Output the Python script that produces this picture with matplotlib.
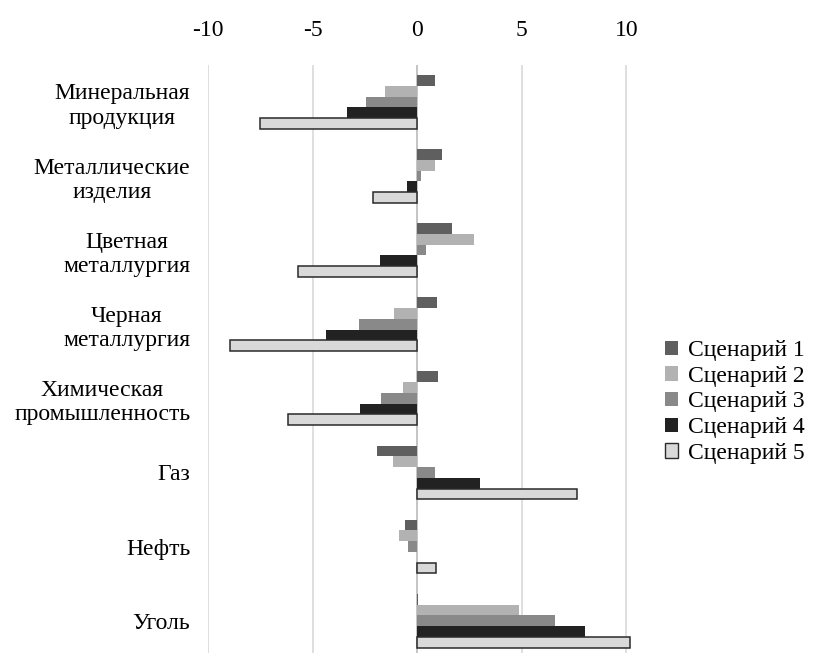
import matplotlib
matplotlib.use("Agg")
import matplotlib.pyplot as plt
from matplotlib.patches import Patch
import numpy as np

plt.rcParams['font.family'] = ['Liberation Serif', 'DejaVu Serif']

categories = [
    "Минеральная\nпродукция",
    "Металлические\nизделия",
    "Цветная\nметаллургия",
    "Черная\nметаллургия",
    "Химическая\nпромышленность",
    "Газ",
    "Нефть",
    "Уголь",
]
series_names = ["Сценарий 1", "Сценарий 2", "Сценарий 3", "Сценарий 4", "Сценарий 5"]

scenario1 = [0.85, 1.18, 1.66, 0.96, 1.00, -1.91, -0.57, 0.05]
scenario2 = [-1.53, 0.86, 2.73, -1.10, -0.67, -1.15, -0.86, 4.88]
scenario3 = [-2.44, 0.17, 0.43, -2.78, -1.72, 0.86, -0.43, 6.60]
scenario4 = [-3.35, -0.48, -1.77, -4.35, -2.73, 3.01, 0.00, 8.04]
scenario5 = [-7.55, -2.14, -5.73, -8.98, -6.20, 7.64, 0.89, 10.19]

x_ticks = [-10, -5, 0, 5, 10]

colors = ["#5f5f5f", "#b2b2b2", "#898989", "#222222", "#d9d9d9"]
edges = [None, None, None, None, "#2a2a2a"]

fig = plt.figure(figsize=(8.13, 6.53), dpi=100)
ax = fig.add_axes([208.3 / 813, -0.0072, (631.5 - 208.3) / 813, 0.9079])

y = np.arange(len(categories))
h = 0.145
all_series = [scenario1, scenario2, scenario3, scenario4, scenario5]
for i, vals in enumerate(all_series):
    offset = (i - 2) * h
    if edges[i]:
        ax.barh(y + offset, vals, height=h, color=colors[i], edgecolor=edges[i],
                linewidth=1.1, zorder=3)
    else:
        ax.barh(y + offset, vals, height=h, color=colors[i], linewidth=0, zorder=3)

ax.set_xlim(-10, 10.25)
ax.set_ylim(len(categories) - 0.5, -0.5)
ax.set_xticks(x_ticks)
ax.set_xticklabels([str(t) for t in x_ticks])
ax.xaxis.tick_top()
ax.tick_params(axis='x', length=0, pad=17, labelsize=17)
ax.set_yticks(y)
ax.set_yticklabels(categories, multialignment='center')
ax.tick_params(axis='y', length=0, pad=13, labelsize=17)

ax.grid(axis='x', color='#d9d9d9', linewidth=1.2, zorder=0)
ax.axvline(0, color='#c0c0c0', linewidth=1.2, zorder=2)
for s in ax.spines.values():
    s.set_visible(False)

handles = [Patch(facecolor=colors[i], edgecolor=(edges[i] or colors[i]),
                 linewidth=1.0 if edges[i] else 0) for i in range(5)]
fig.legend(handles, series_names, loc='center left',
           bbox_to_anchor=(660 / 813, 1 - 402 / 653), frameon=False,
           fontsize=17, handlelength=0.55, handleheight=0.55, handletextpad=0.45,
           labelspacing=0.2, borderpad=0.2, borderaxespad=0)

fig.savefig("out.png", dpi=100)
